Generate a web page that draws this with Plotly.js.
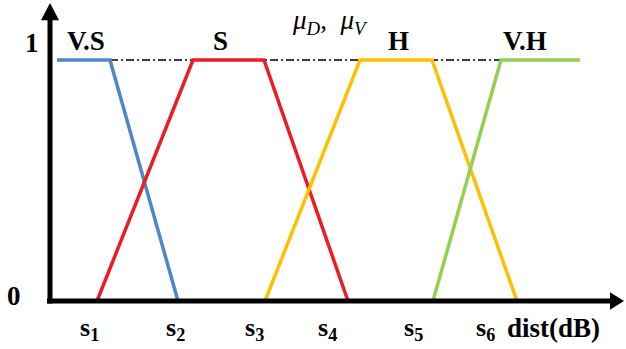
<!DOCTYPE html>
<html>
<head>
<meta charset="utf-8">
<script src="https://cdn.plot.ly/plotly-3.0.1.min.js"></script>
<style>html,body{margin:0;padding:0;background:#fff;}#chart{width:626px;height:349px;}</style>
</head>
<body>
<div id="chart"></div>
<script>
// Membership functions (x: distance, y: membership degree)
var vsX = [7, 60, 128];            var vsY = [1, 1, 0];
var sX  = [47, 143, 214, 298];     var sY  = [0, 1, 1, 0];
var hX  = [215, 310, 382, 467];    var hY  = [0, 1, 1, 0];
var vhX = [383, 451, 530];         var vhY = [0, 1, 1];
var refX = [60, 451];              var refY = [1, 1];

var setNames = ['V.S', 'S', 'H', 'V.H'];
var setLabelX = [36, 170, 348, 475];
var setColors = ['#4F86C6', '#ED1C24', '#FFC000', '#92D050'];

var tickX = [39, 125, 204, 277, 363, 435];
var tickText = ['s<sub>1</sub>', 's<sub>2</sub>', 's<sub>3</sub>', 's<sub>4</sub>', 's<sub>5</sub>', 's<sub>6</sub>'];
var axisTitle = 'dist(dB)';
var axisTitleX = 503;
var yTickVals = [0, 1];
var yTickText = ['0', '1'];
var yTickX = [-36, -18];
var yTickY = [0.02, 1.07];
var muText = '<i>μ<sub>D</sub></i>,  <i>μ<sub>V</sub></i>';

var serif = '"Liberation Serif", "Times New Roman", serif';

function line(x, y, color, width, dash) {
  return {x: x, y: y, type: 'scatter', mode: 'lines', hoverinfo: 'skip',
          line: {color: color, width: width, dash: dash || 'solid'}, showlegend: false};
}

var traces = [
  line(refX, refY, '#000', 1.6, '8px,3px,2px,3px'),
  line(vsX, vsY, setColors[0], 3.5),
  line(sX, sY, setColors[1], 3.5),
  line(hX, hY, setColors[2], 3.5),
  line(vhX, vhY, setColors[3], 3.5)
];

// axes with arrows
var xAxisStart = -3, xAxisEnd = 562, xArrowTip = 574, xArrowHalf = 0.036;
var yAxisTop = 1.17, yArrowTip = 1.237, yArrowHalf = 9;
var shapes = [
  {type: 'line', x0: xAxisStart, x1: xAxisEnd, y0: 0, y1: 0, line: {color: '#000', width: 5}},
  {type: 'line', x0: 0, x1: 0, y0: -0.01, y1: yAxisTop, line: {color: '#000', width: 5}},
  {type: 'path', path: 'M ' + (xAxisEnd - 2) + ' ' + xArrowHalf + ' L ' + xArrowTip + ' 0 L ' + (xAxisEnd - 2) + ' ' + (-xArrowHalf) + ' Z',
   fillcolor: '#000', line: {width: 0}},
  {type: 'path', path: 'M ' + (-yArrowHalf) + ' ' + (yAxisTop - 0.005) + ' L 0 ' + yArrowTip + ' L ' + yArrowHalf + ' ' + (yAxisTop - 0.005) + ' Z',
   fillcolor: '#000', line: {width: 0}}
];

var annotations = [];
var boldFont = {family: serif, size: 27, color: '#000', weight: 'bold'};
var tickFont = {family: serif, size: 26, color: '#000', weight: 'bold'};
for (var i = 0; i < setNames.length; i++) {
  annotations.push({x: setLabelX[i], y: 1.01, text: '<b>' + setNames[i] + '</b>', showarrow: false,
    xanchor: 'center', yanchor: 'bottom', font: boldFont});
}
for (var j = 0; j < tickX.length; j++) {
  annotations.push({x: tickX[j], y: -0.043, text: '<b>' + tickText[j] + '</b>', showarrow: false,
    xanchor: 'center', yanchor: 'top', font: tickFont});
}
annotations.push({x: axisTitleX, y: -0.043, text: '<b>' + axisTitle + '</b>', showarrow: false,
  xanchor: 'center', yanchor: 'top', font: boldFont});
for (var k = 0; k < yTickVals.length; k++) {
  annotations.push({x: yTickX[k], y: yTickY[k], text: '<b>' + yTickText[k] + '</b>', showarrow: false,
    xanchor: 'center', yanchor: 'middle', font: boldFont});
}
annotations.push({x: 280, y: 1.158, text: muText, showarrow: false, xanchor: 'center', yanchor: 'middle',
  font: {family: serif, size: 27, color: '#000'}});

var layout = {
  width: 626, height: 349,
  margin: {l: 0, r: 0, t: 0, b: 0, pad: 0},
  paper_bgcolor: '#fff', plot_bgcolor: '#fff',
  xaxis: {range: [-50, 576], visible: false, fixedrange: true},
  yaxis: {range: [-0.1992, 1.249], visible: false, fixedrange: true},
  shapes: shapes,
  annotations: annotations,
  showlegend: false
};

Plotly.newPlot('chart', traces, layout, {displayModeBar: false, staticPlot: true});
</script>
</body>
</html>
